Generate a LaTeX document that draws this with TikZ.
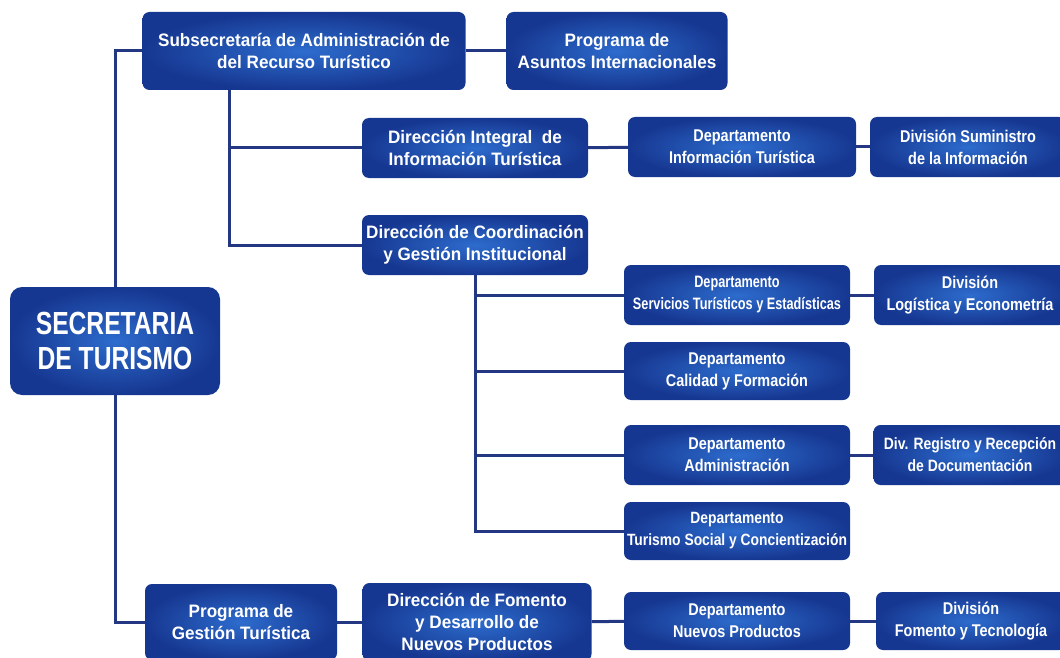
\documentclass[tikz,border=0pt]{standalone}
\usepackage{fontspec}
\setmainfont{Liberation Sans}
\newfontfamily\anchafont{Liberation Sans}[FakeStretch=0.95]
\newfontfamily\estrechafont{Liberation Sans}[FakeStretch=0.85]
\newfontfamily\angostafont{Liberation Sans}[FakeStretch=0.77]
\definecolor{azulborde}{RGB}{22,55,145}
\definecolor{azulcentro}{RGB}{45,108,205}
\definecolor{azullinea}{RGB}{35,55,130}
\tikzset{
  unidad/.style={rounded corners=7pt, shade, outer color=azulborde, inner color=azulcentro,
    text=white, align=center, inner sep=0pt, minimum width=226pt, minimum height=60pt,
    font=\anchafont\bfseries\fontsize{18}{22}\selectfont},
  depto/.style={unidad, font=\estrechafont\bfseries\fontsize{17}{22}\selectfont},
  linea/.style={draw=azullinea, line width=3pt}
}
\begin{document}
\begin{tikzpicture}[x=1pt,y=-1pt]
\useasboundingbox (0,0) rectangle (1060,658);
\clip (0,0) rectangle (1060,658);
% cabeza
\node[unidad, minimum width=210pt, minimum height=108pt, rounded corners=12pt,
  font=\angostafont\bfseries\fontsize{32}{35}\selectfont] (secretaria) at (115,341) {SECRETARIA\\DE TURISMO};
\node[unidad, minimum width=323pt, minimum height=78pt] (subsec) at (304,51) {Subsecretaría de Administración de\\del Recurso Turístico};
\node[unidad, minimum width=221pt, minimum height=78pt] (asuntos) at (617,51) {Programa de\\Asuntos Internacionales};
% direcciones
\node[unidad] (dirinfo) at (475,148) {Dirección Integral \ de\\Información Turística};
\node[unidad] (dircoord) at (475,245) {Dirección de Coordinación\\y Gestión Institucional};
\node[unidad, minimum width=192pt, minimum height=76pt] (progest) at (241,622) {Programa de\\Gestión Turística};
\node[unidad, minimum width=229pt, minimum height=78pt] (dirfom) at (477,622) {Dirección de Fomento\\y Desarrollo de\\Nuevos Productos};
% departamentos
\node[depto, minimum width=228pt] (depinfo) at (742,147) {Departamento\\Información Turística};
\node[depto, font=\angostafont\bfseries\fontsize{16.5}{22}\selectfont] (depserv) at (737,295) {Departamento\\Servicios Turísticos y Estadísticas};
\node[depto, minimum height=58pt] (depcal) at (737,371) {Departamento\\Calidad y Formación};
\node[depto] (depadm) at (737,455) {Departamento\\Administración};
\node[depto, minimum height=58pt, font=\estrechafont\bfseries\fontsize{16.3}{22}\selectfont] (depsoc) at (737,531) {Departamento\\Turismo Social y Concientización};
\node[depto, minimum height=58pt] (depnue) at (737,621) {Departamento\\Nuevos Productos};
% divisiones
\node[depto, minimum width=196pt] (divsum) at (968,147) {División Suministro\\de la Información};
\node[depto, minimum width=192pt] (divlog) at (970,295) {División\\Logística y Econometría};
\node[depto, minimum width=193pt, font=\estrechafont\bfseries\fontsize{16.4}{22}\selectfont] (divreg) at (970,455) {Div. Registro y Recepción\\de Documentación};
\node[depto, minimum width=190pt, minimum height=58pt] (divfom) at (971,621) {División\\Fomento y Tecnología};
% conectores
\coordinate (eje) at (229,0);
\draw[linea] (secretaria.north) |- (subsec.west);
\draw[linea] (secretaria.south) |- (progest.west);
\draw[linea] (subsec) -- (asuntos);
\draw[linea] (subsec.south -| eje) |- (dirinfo.west);
\draw[linea] (subsec.south -| eje) |- (dircoord.west);
\foreach \Depto in {depserv, depcal, depadm, depsoc}{
    \draw[linea] (dircoord.south) |- (\Depto.west);
}
\draw[linea] (dirinfo) -- (depinfo);
\draw[linea] (depinfo) -- (divsum);
\draw[linea] (depserv) -- (divlog);
\draw[linea] (depadm) -- (divreg);
\draw[linea] (progest) -- (dirfom);
\draw[linea] (dirfom) -- (depnue);
\draw[linea] (depnue) -- (divfom);
\end{tikzpicture}
\end{document}
